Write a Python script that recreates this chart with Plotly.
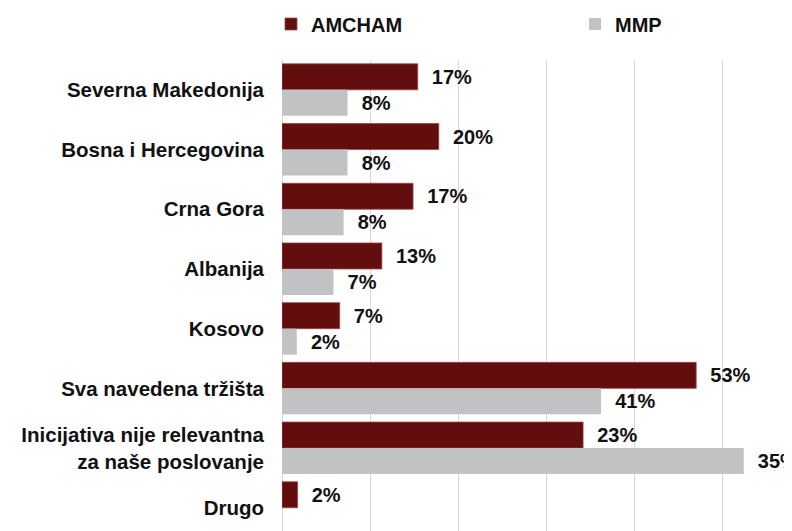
import plotly.graph_objects as go

categories = [
    "Severna Makedonija",
    "Bosna i Hercegovina",
    "Crna Gora",
    "Albanija",
    "Kosovo",
    "Sva navedena tržišta",
    "Inicijativa nije relevantna<br>za naše poslovanje",
    "Drugo",
]

# bar lengths (percent)
amcham_values = [17.4, 20.1, 16.8, 12.8, 7.4, 53.1, 38.6, 2.0]
mmp_values = [8.4, 8.4, 7.9, 6.6, 1.9, 40.9, 59.2, None]

# value labels printed next to the bars
amcham_labels = ["17%", "20%", "17%", "13%", "7%", "53%", "23%", "2%"]
mmp_labels = ["8%", "8%", "8%", "7%", "2%", "41%", "35%", ""]

FONT = "Liberation Sans, Arial, Helvetica, sans-serif"
NB = "\u00a0\u00a0"

fig = go.Figure()
fig.add_trace(go.Bar(
    name="AMCHAM",
    y=categories,
    x=amcham_values,
    orientation="h",
    marker=dict(color="#620E0F", line=dict(color="#9A4647", width=0.8)),
    text=[NB + t for t in amcham_labels],
    textposition="outside",
    textfont=dict(family=FONT, size=20, color="#111111", weight="bold"),
    constraintext="none",
    cliponaxis=False,
    hoverinfo="skip",
    legend="legend",
))
fig.add_trace(go.Bar(
    name="MMP",
    y=categories,
    x=mmp_values,
    orientation="h",
    marker=dict(color="#C1C2C4", line=dict(width=0)),
    text=[(NB + t) if t else "" for t in mmp_labels],
    textposition="outside",
    textfont=dict(family=FONT, size=20, color="#111111", weight="bold"),
    constraintext="none",
    cliponaxis=False,
    hoverinfo="skip",
    legend="legend2",
))

legend_common = dict(
    orientation="h",
    xref="container",
    yref="container",
    xanchor="left",
    y=1 - 16 / 531,
    yanchor="middle",
    font=dict(family=FONT, size=20, color="#111111", weight="bold"),
    bgcolor="rgba(0,0,0,0)",
)

fig.update_layout(
    width=792,
    height=531,
    margin=dict(l=274, r=8, t=52, b=8, autoexpand=False),
    paper_bgcolor="white",
    plot_bgcolor="white",
    barmode="group",
    bargap=0.129,
    bargroupgap=0,
    font=dict(family=FONT, size=20, color="#111111"),
    showlegend=True,
    legend=dict(x=263 / 792, **legend_common),
    legend2=dict(x=567 / 792, **legend_common),
    xaxis=dict(
        range=[0, 65.385],
        dtick=11.29,
        tick0=0,
        showgrid=True,
        gridcolor="#D9D9D9",
        gridwidth=1,
        zeroline=True,
        zerolinecolor="#D9D9D9",
        zerolinewidth=1,
        showticklabels=False,
        showline=False,
        fixedrange=True,
        automargin=False,
    ),
    yaxis=dict(
        categoryorder="array",
        categoryarray=categories,
        range=[7.389, -0.5],
        showgrid=False,
        zeroline=False,
        showline=False,
        ticks="",
        ticklabelstandoff=17,
        tickfont=dict(family=FONT, size=20.5, color="#111111", weight="bold"),
        fixedrange=True,
        automargin=False,
    ),
)

fig.write_html("out.html")
